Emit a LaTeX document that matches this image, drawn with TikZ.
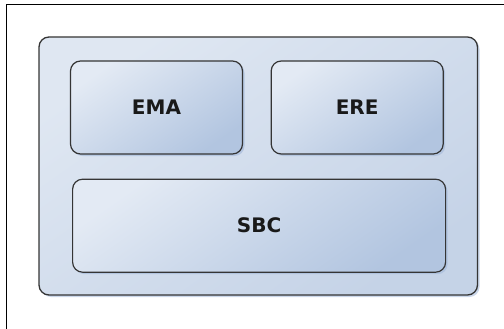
\documentclass[tikz,border=0pt]{standalone}
\usepackage{fontspec}
\setmainfont{DejaVu Sans}
\usepackage{tikz}
\usetikzlibrary{positioning}
\usetikzlibrary{shadows}
\usepackage{xcolor}
\definecolor{boxlight}{HTML}{E3EAF4}
\definecolor{boxdark}{HTML}{B2C5E0}
\definecolor{outerlight}{HTML}{DFE7F2}
\definecolor{outerdark}{HTML}{C5D3E7}
\definecolor{edgegray}{HTML}{353535}
\definecolor{shadowblue}{HTML}{A8BDDC}

\begin{document}
\begin{tikzpicture}[x=1pt, y=1pt, node distance=24pt and 27.5pt,
    module/.style={draw=edgegray, line width=1.2pt, rounded corners=10pt,
        top color=boxlight, bottom color=boxdark, shading angle=35,
        minimum width=172pt, minimum height=93pt, inner sep=0pt,
        font=\fontsize{20}{24}\selectfont\bfseries, text=black!90,
        drop shadow={shadow xshift=2pt, shadow yshift=-2pt, fill=shadowblue, opacity=0.7}},
    platform/.style={draw=edgegray, line width=1.3pt, rounded corners=10pt,
        top color=outerlight, bottom color=outerdark, shading angle=35,
        minimum width=438.5pt, minimum height=258pt, inner sep=0pt,
        drop shadow={shadow xshift=2pt, shadow yshift=-2pt, fill=shadowblue, opacity=0.6}}]
    \useasboundingbox (0,0) rectangle (504,-329);
    % frame
    \draw[line width=1pt] (6,-329) -- (6,-5) -- (504,-5);
    \node[platform] (system) at (258.25,-166) {};
    \node[module] (ema) at (156.5,-107.5) {EMA};
    \node[module, right=of ema] (ere) {ERE};
    \node[module, minimum width=373pt, below=of ema.south east, xshift=16pt] (sbc) {SBC};
\end{tikzpicture}
\end{document}
